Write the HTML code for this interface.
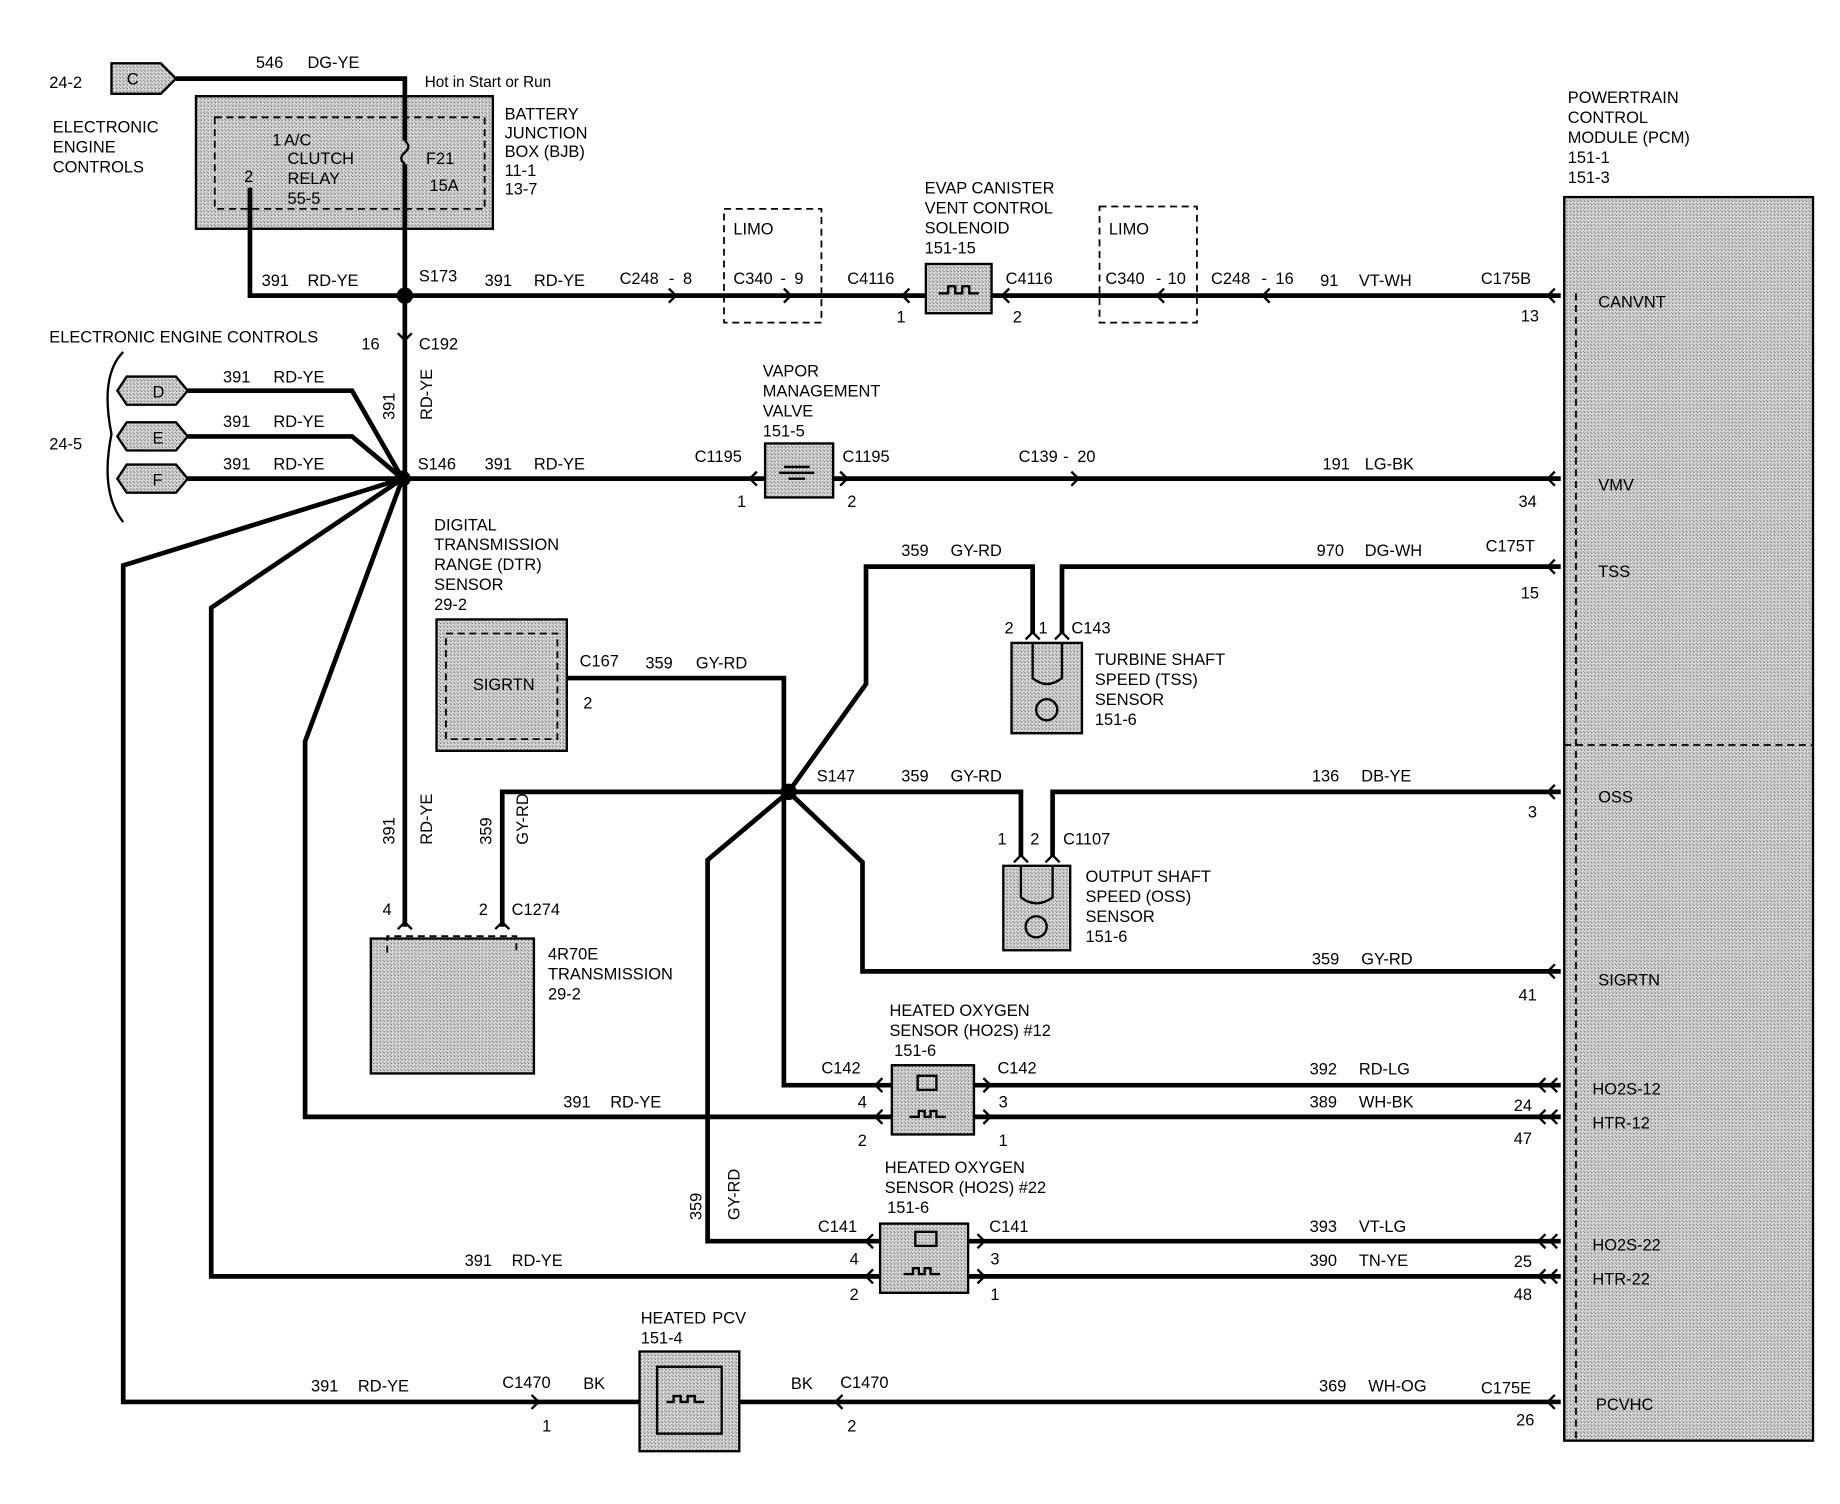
<!DOCTYPE html>
<html><head><meta charset="utf-8"><style>
html,body{margin:0;padding:0;background:#fff;}
svg{display:block;}
text{font-family:"Liberation Sans",Arial,sans-serif;font-size:14px;fill:#000;}
.w{stroke:#000;stroke-width:4;fill:none;}
.t{stroke:#000;stroke-width:2;fill:none;}
.g{fill:#bdbdbd;stroke:#000;stroke-width:2;}
.d{stroke:#000;stroke-width:1.5;fill:none;stroke-dasharray:6,4;}
.a{stroke:#000;stroke-width:2;fill:none;}
</style></head><body>
<svg width="1840" height="1504" viewBox="0 0 1568 1282" preserveAspectRatio="none" xmlns="http://www.w3.org/2000/svg">
<defs>
<pattern id="p" width="3" height="3" patternUnits="userSpaceOnUse"><rect width="3" height="3" fill="#d8d8d8"/><rect width="1" height="1" fill="#666"/><rect x="2" y="2" width="1" height="1" fill="#888"/></pattern>
</defs>
<style>.g{fill:url(#p);}</style>

<!-- top C connector -->
<text x="42" y="75">24-2</text>
<path class="g" d="M95,54 H137 L150,67 L137,80 H95 Z"/>
<text x="108" y="72">C</text>
<path class="w" d="M150,67 H345 V250"/>
<text x="218" y="58">546</text><text x="262" y="58">DG-YE</text>
<text x="362" y="74" style="font-size:13px">Hot in Start or Run</text>
<text x="45" y="113">ELECTRONIC</text><text x="45" y="130">ENGINE</text><text x="45" y="147">CONTROLS</text>
<rect class="g" x="167" y="82" width="253" height="113"/>
<rect class="d" x="183" y="100" width="230" height="78"/>
<path class="w" d="M345,82 V120 M345,140 V195" />
<path class="t" d="M345,120 q6,5 0,10 q-6,5 0,10"/>
<text x="242" y="124">A/C</text><text x="245" y="140">CLUTCH</text><text x="245" y="157">RELAY</text><text x="245" y="174">55-5</text>
<text x="232" y="124">1</text><text x="208" y="155">2</text>
<text x="363" y="140">F21</text><text x="366" y="163">15A</text>
<text x="430" y="102">BATTERY</text><text x="430" y="118">JUNCTION</text><text x="430" y="134">BOX (BJB)</text><text x="430" y="150">11-1</text><text x="430" y="166">13-7</text>
<path class="w" d="M213,160 V252 H1330"/>
<circle cx="345" cy="252" r="7"/>
<text x="223" y="244">391</text><text x="262" y="244">RD-YE</text>
<text x="357" y="240">S173</text>
<text x="413" y="244">391</text><text x="455" y="244">RD-YE</text>
<text x="528" y="242">C248</text><text x="570" y="242">-</text><text x="582" y="242">8</text>
<path class="a" d="M570,246 l6,6 l-6,6"/>
<rect class="d" x="617" y="178" width="83" height="97"/>
<text x="625" y="200">LIMO</text>
<text x="625" y="242">C340</text><text x="665" y="242">-</text><text x="677" y="242">9</text>
<path class="a" d="M668,246 l6,6 l-6,6"/>
<text x="722" y="242">C4116</text>
<path class="a" d="M775,246 l-6,6 l6,6"/>
<text x="764" y="275">1</text>
<rect class="g" x="789" y="225" width="56" height="42"/>
<path class="t" d="M800,250 h8 v-6 h6 v6 h6 v-6 h6 v6 h8"/>
<text x="788" y="165">EVAP CANISTER</text><text x="788" y="182">VENT CONTROL</text><text x="788" y="199">SOLENOID</text><text x="788" y="216">151-15</text>
<text x="857" y="242">C4116</text>
<path class="a" d="M860,246 l-6,6 l6,6"/><text x="863" y="275">2</text>
<rect class="d" x="937" y="176" width="83" height="99"/>
<text x="945" y="200">LIMO</text>
<text x="942" y="242">C340</text><text x="985" y="242">-</text><text x="995" y="242">10</text>
<path class="a" d="M992,246 l-6,6 l6,6"/>
<text x="1032" y="242">C248</text><text x="1075" y="242">-</text><text x="1087" y="242">16</text>
<path class="a" d="M1082,246 l-6,6 l6,6"/>
<text x="1125" y="244">91</text><text x="1158" y="244">VT-WH</text>
<text x="1262" y="242">C175B</text><text x="1296" y="274">13</text>

<!-- PCM -->
<text x="1336" y="88">POWERTRAIN</text><text x="1336" y="105">CONTROL</text><text x="1336" y="122">MODULE (PCM)</text><text x="1336" y="139">151-1</text><text x="1336" y="156">151-3</text>
<rect class="g" x="1333" y="168" width="212" height="1060"/>
<path class="d" d="M1343,250 V1228 M1333,635 H1545"/>
<g style="font-size:13px">
<text x="1362" y="262">CANVNT</text><text x="1362" y="418">VMV</text><text x="1362" y="492">TSS</text><text x="1362" y="684">OSS</text>
<text x="1362" y="840">SIGRTN</text><text x="1357" y="933">HO2S-12</text><text x="1357" y="962">HTR-12</text>
<text x="1357" y="1066">HO2S-22</text><text x="1357" y="1095">HTR-22</text><text x="1360" y="1202">PCVHC</text>
</g>
<g class="a">
<path d="M1325,246 l-6,6 l6,6"/><path d="M1325,402 l-6,6 l6,6"/><path d="M1325,477 l-6,6 l6,6"/>
<path d="M1325,669 l-6,6 l6,6"/><path d="M1325,822 l-6,6 l6,6"/><path d="M1317,919 l-6,6 l6,6 M1327,919 l-6,6 l6,6"/>
<path d="M1317,946 l-6,6 l6,6 M1327,946 l-6,6 l6,6"/><path d="M1317,1052 l-6,6 l6,6 M1327,1052 l-6,6 l6,6"/>
<path d="M1317,1082 l-6,6 l6,6 M1327,1082 l-6,6 l6,6"/><path d="M1325,1189 l-6,6 l6,6"/>
</g>

<!-- S146 -->
<path class="w" d="M345,252 V408"/>
<path class="a" d="M339,284 l6,6 l6,-6"/>
<text x="308" y="298">16</text><text x="357" y="298">C192</text>
<text x="368" y="358" transform="rotate(-90 368 358)">RD-YE</text>
<text x="42" y="292">ELECTRONIC ENGINE CONTROLS</text>
<path class="t" d="M105,300 q-20,20 -10,70 q-10,50 10,75"/>
<text x="42" y="383">24-5</text>
<path class="g" d="M108,321 H150 L160,333 L150,345 H108 L100,333 Z"/><text x="130" y="339">D</text>
<path class="g" d="M108,360 H150 L160,372 L150,384 H108 L100,372 Z"/><text x="130" y="378">E</text>
<path class="g" d="M108,396 H150 L160,408 L150,420 H108 L100,408 Z"/><text x="130" y="414">F</text>
<path class="w" d="M160,333 H300 L343,408 M160,372 H300 L343,408 M160,408 H1330"/>
<text x="190" y="326">391</text><text x="233" y="326">RD-YE</text>
<text x="190" y="364">391</text><text x="233" y="364">RD-YE</text>
<text x="190" y="400">391</text><text x="233" y="400">RD-YE</text>
<text x="336" y="358" transform="rotate(-90 336 358)">391</text>
<circle cx="343" cy="408" r="7"/>
<text x="356" y="400">S146</text><text x="413" y="400">391</text><text x="455" y="400">RD-YE</text>
<path class="w" d="M343,408 L105,482 V1195 H545 M343,408 L180,518 V1088 H752 M343,408 L260,632 V952 H760 M345,408 V790"/>
<text x="650" y="321">VAPOR</text><text x="650" y="338">MANAGEMENT</text><text x="650" y="355">VALVE</text><text x="650" y="372">151-5</text>
<text x="592" y="394">C1195</text><text x="628" y="432">1</text><path class="a" d="M645,402 l-6,6 l6,6"/>
<rect class="g" x="652" y="378" width="58" height="46"/>
<path class="t" d="M664,403 h30 M668,398 h22 M672,408 h14"/>
<text x="718" y="394">C1195</text><text x="722" y="432">2</text><path class="a" d="M716,402 l6,6 l-6,6"/>
<text x="868" y="394">C139</text><text x="906" y="394">-</text><text x="918" y="394">20</text>
<path class="a" d="M913,402 l6,6 l-6,6"/>
<text x="1127" y="400">191</text><text x="1163" y="400">LG-BK</text><text x="1294" y="432">34</text>

<!-- DTR -->
<text x="370" y="452">DIGITAL</text><text x="370" y="469">TRANSMISSION</text><text x="370" y="486">RANGE (DTR)</text><text x="370" y="503">SENSOR</text><text x="370" y="520">29-2</text>
<rect class="g" x="372" y="528" width="111" height="112"/>
<rect class="d" x="380" y="540" width="95" height="90"/>
<text x="403" y="588">SIGRTN</text>
<text x="494" y="568">C167</text><text x="497" y="604">2</text>
<path class="w" d="M483,578 H668 V673"/>
<text x="550" y="570">359</text><text x="593" y="570">GY-RD</text>

<!-- S147 -->
<circle cx="672" cy="675" r="7"/>
<text x="696" y="666">S147</text>
<path class="w" d="M672,675 H428 V790 M672,675 H870 V730 M897,730 V675 H1330 M672,675 L738,583 V483 H880 V540 M905,540 V483 H1330 M672,675 L603,733 V1058 H752 M672,675 L735,735 V828 H1330 M668,675 V925 H760"/>
<text x="768" y="666">359</text><text x="810" y="666">GY-RD</text>
<text x="1118" y="666">136</text><text x="1160" y="666">DB-YE</text><text x="1302" y="697">3</text>
<text x="768" y="474">359</text><text x="810" y="474">GY-RD</text>
<text x="1122" y="474">970</text><text x="1163" y="474">DG-WH</text><text x="1266" y="470">C175T</text><text x="1296" y="510">15</text>
<path class="a" d="M874,545 l6,-6 l6,6 M899,545 l6,-6 l6,6"/>
<text x="856" y="540">2</text><text x="885" y="540">1</text><text x="913" y="540">C143</text>
<rect class="g" x="862" y="548" width="60" height="77"/>
<path class="t" d="M880,548 V578 Q892,588 905,578 V548"/>
<circle cx="892" cy="605" r="9" class="t"/>
<text x="933" y="567">TURBINE SHAFT</text><text x="933" y="584">SPEED (TSS)</text><text x="933" y="601">SENSOR</text><text x="933" y="618">151-6</text>
<path class="a" d="M864,735 l6,-6 l6,6 M891,735 l6,-6 l6,6"/>
<text x="850" y="720">1</text><text x="878" y="720">2</text><text x="906" y="720">C1107</text>
<rect class="g" x="855" y="738" width="57" height="72"/>
<path class="t" d="M870,738 V765 Q883,775 897,765 V738"/>
<circle cx="883" cy="790" r="9" class="t"/>
<text x="925" y="752">OUTPUT SHAFT</text><text x="925" y="769">SPEED (OSS)</text><text x="925" y="786">SENSOR</text><text x="925" y="803">151-6</text>
<text x="1118" y="822">359</text><text x="1160" y="822">GY-RD</text><text x="1294" y="853">41</text>

<!-- 4R70E -->
<text x="336" y="720" transform="rotate(-90 336 720)">391</text>
<text x="368" y="720" transform="rotate(-90 368 720)">RD-YE</text>
<text x="419" y="720" transform="rotate(-90 419 720)">359</text>
<text x="450" y="720" transform="rotate(-90 450 720)">GY-RD</text>
<path class="a" d="M339,792 l6,-6 l6,6 M422,792 l6,-6 l6,6"/>
<text x="326" y="780">4</text><text x="408" y="780">2</text><text x="436" y="780">C1274</text>
<rect class="g" x="316" y="800" width="139" height="115"/>
<path class="d" d="M330,812 V798 H440 V812"/>
<text x="467" y="818">4R70E</text><text x="467" y="835">TRANSMISSION</text><text x="467" y="852">29-2</text>

<!-- HO2S 12 -->
<text x="758" y="866">HEATED OXYGEN</text><text x="758" y="883">SENSOR (HO2S) #12</text><text x="762" y="900">151-6</text>
<text x="700" y="915">C142</text><text x="850" y="915">C142</text>
<rect class="g" x="760" y="908" width="70" height="59"/>
<path class="w" d="M830,925 H1330 M830,952 H1330"/>
<path class="a" d="M752,919 l-6,6 l6,6 M752,946 l-6,6 l6,6 M838,919 l6,6 l-6,6 M838,946 l6,6 l-6,6"/>
<rect class="t" x="782" y="917" width="16" height="12"/>
<path class="t" d="M775,952 h8 v-5 h5 v5 h5 v-5 h5 v5 h8"/>
<text x="731" y="944">4</text><text x="731" y="977">2</text><text x="851" y="944">3</text><text x="851" y="977">1</text>
<text x="480" y="944">391</text><text x="520" y="944">RD-YE</text>
<text x="1116" y="916">392</text><text x="1158" y="916">RD-LG</text>
<text x="1116" y="944">389</text><text x="1158" y="944">WH-BK</text>
<text x="1290" y="947">24</text><text x="1290" y="975">47</text>

<!-- HO2S 22 -->
<text x="598" y="1040" transform="rotate(-90 598 1040)">359</text>
<text x="630" y="1040" transform="rotate(-90 630 1040)">GY-RD</text>
<text x="754" y="1000">HEATED OXYGEN</text><text x="754" y="1017">SENSOR (HO2S) #22</text><text x="756" y="1034">151-6</text>
<text x="697" y="1050">C141</text><text x="843" y="1050">C141</text>
<rect class="g" x="750" y="1043" width="75" height="59"/>
<path class="w" d="M825,1058 H1330 M825,1088 H1330"/>
<path class="a" d="M744,1052 l-6,6 l6,6 M744,1082 l-6,6 l6,6 M833,1052 l6,6 l-6,6 M833,1082 l6,6 l-6,6"/>
<rect class="t" x="780" y="1050" width="18" height="12"/>
<path class="t" d="M770,1086 h8 v-5 h5 v5 h5 v-5 h5 v5 h8"/>
<text x="724" y="1078">4</text><text x="724" y="1108">2</text><text x="844" y="1078">3</text><text x="844" y="1108">1</text>
<text x="396" y="1079">391</text><text x="436" y="1079">RD-YE</text>
<text x="1116" y="1050">393</text><text x="1158" y="1050">VT-LG</text>
<text x="1116" y="1079">390</text><text x="1158" y="1079">TN-YE</text>
<text x="1290" y="1080">25</text><text x="1290" y="1108">48</text>

<!-- PCV -->
<text x="546" y="1128">HEATED</text><text x="607" y="1128">PCV</text><text x="546" y="1145">151-4</text>
<rect class="g" x="545" y="1152" width="85" height="85"/>
<rect class="t" x="560" y="1165" width="55" height="57"/>
<path class="t" d="M568,1195 h6 v-5 h6 v5 h6 v-5 h6 v5 h8"/>
<path class="w" d="M630,1195 H1330"/>
<text x="265" y="1186">391</text><text x="305" y="1186">RD-YE</text>
<text x="428" y="1183">C1470</text><text x="497" y="1184">BK</text><text x="462" y="1220">1</text>
<path class="a" d="M453,1189 l6,6 l-6,6"/>
<text x="674" y="1184">BK</text><text x="716" y="1183">C1470</text><text x="722" y="1220">2</text>
<path class="a" d="M718,1189 l-6,6 l6,6"/>
<text x="1124" y="1186">369</text><text x="1166" y="1186">WH-OG</text><text x="1262" y="1188">C175E</text><text x="1292" y="1215">26</text>
</svg>
</body></html>
